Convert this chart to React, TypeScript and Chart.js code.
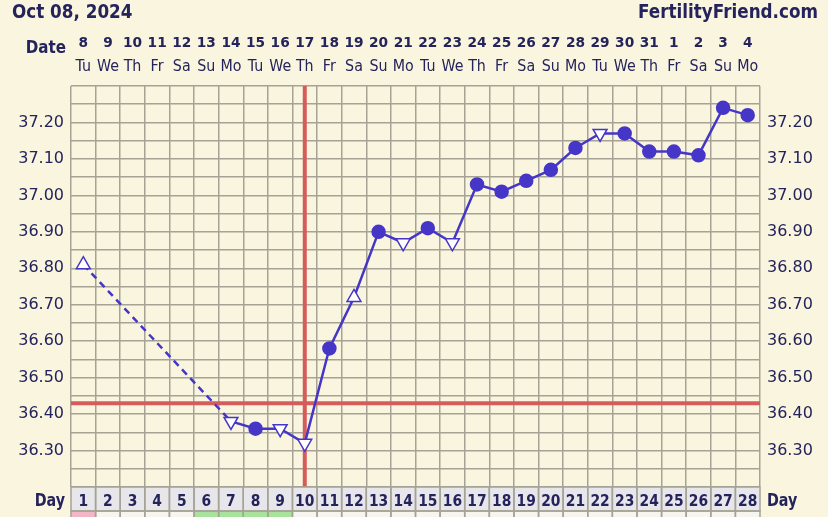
import React, { useEffect, useRef } from "react";
import { Chart, registerables } from "chart.js";

Chart.register(...registerables);

const titleText = "Oct 08, 2024";
const siteText = "FertilityFriend.com";
const dates = ["8", "9", "10", "11", "12", "13", "14", "15", "16", "17", "18", "19", "20", "21", "22", "23", "24", "25", "26", "27", "28", "29", "30", "31", "1", "2", "3", "4"];
const weekdays = ["Tu", "We", "Th", "Fr", "Sa", "Su", "Mo", "Tu", "We", "Th", "Fr", "Sa", "Su", "Mo", "Tu", "We", "Th", "Fr", "Sa", "Su", "Mo", "Tu", "We", "Th", "Fr", "Sa", "Su", "Mo"];
const cycleDays = ["1", "2", "3", "4", "5", "6", "7", "8", "9", "10", "11", "12", "13", "14", "15", "16", "17", "18", "19", "20", "21", "22", "23", "24", "25", "26", "27", "28"];
const temps: (number | null)[] = [36.81, null, null, null, null, null, 36.38, 36.36, 36.36, 36.32, 36.58, 36.72, 36.9, 36.87, 36.91, 36.87, 37.03, 37.01, 37.04, 37.07, 37.13, 37.17, 37.17, 37.12, 37.12, 37.11, 37.24, 37.22];
// "c" = filled circle, "u" = open up-triangle, "d" = open down-triangle
const markers = ["u", "", "", "", "", "", "d", "c", "d", "d", "c", "u", "c", "d", "c", "d", "c", "c", "c", "c", "c", "d", "c", "c", "c", "c", "c", "c"];
const yLabels = ["36.30", "36.40", "36.50", "36.60", "36.70", "36.80", "36.90", "37.00", "37.10", "37.20"];
const coverline = 36.43;
const ovulationDay = "10";
const periodDays = ["1"];
const fertileDays = ["6", "7", "8", "9"];

const NAVY = "#25235c";
const LINE = "#4636c8";
const RED = "#d65c5c";
const GRID = "#a6a396";
const BG = "#f9f5de";

function condensedText(ctx: CanvasRenderingContext2D, text: string, x: number, y: number, align: "left" | "right" | "center", sx: number) {
  const w = ctx.measureText(text).width * sx;
  let left = x;
  if (align === "right") left = x - w;
  if (align === "center") left = x - w / 2;
  ctx.save();
  ctx.translate(left, y);
  ctx.scale(sx, 1);
  ctx.textAlign = "left";
  ctx.fillText(text, 0, 0);
  ctx.restore();
}

const fertilityPlugin = {
  id: "fertility",
  beforeDraw(chart: any) {
    const { ctx, width, height } = chart;
    ctx.save();
    ctx.fillStyle = BG;
    ctx.fillRect(0, 0, width, height);
    ctx.restore();
  },
  beforeDatasetsDraw(chart: any) {
    const { ctx, chartArea, scales } = chart;
    const x = scales.x;
    const y = scales.y;
    ctx.save();
    ctx.strokeStyle = RED;
    ctx.lineWidth = 4;
    const yy = y.getPixelForValue(coverline);
    ctx.beginPath();
    ctx.moveTo(chartArea.left, yy);
    ctx.lineTo(chartArea.right, yy);
    ctx.stroke();
    const xx = x.getPixelForValue(cycleDays.indexOf(ovulationDay));
    ctx.beginPath();
    ctx.moveTo(xx, chartArea.top);
    ctx.lineTo(xx, chartArea.bottom);
    ctx.stroke();
    ctx.restore();
  },
  afterDraw(chart: any) {
    const { ctx, chartArea, scales, width } = chart;
    const x = scales.x;
    const colW = x.getPixelForValue(1) - x.getPixelForValue(0);
    ctx.save();
    ctx.fillStyle = NAVY;
    ctx.textBaseline = "alphabetic";
    ctx.font = "bold 20px 'DejaVu Sans'";
    condensedText(ctx, titleText, 12, 18, "left", 0.84);
    condensedText(ctx, siteText, width - 10, 18, "right", 0.84);
    ctx.font = "bold 18px 'DejaVu Sans'";
    condensedText(ctx, "Date", chartArea.left - 5, 53, "right", 0.84);
    ctx.font = "bold 14px 'DejaVu Sans'";
    dates.forEach((d, i) => {
      condensedText(ctx, d, x.getPixelForValue(i), 47, "center", 0.98);
    });
    ctx.font = "15px 'DejaVu Sans'";
    weekdays.forEach((d, i) => {
      condensedText(ctx, d, x.getPixelForValue(i), 71, "center", 0.95);
    });
    const rowTop = chartArea.bottom;
    const rowH = 24;
    cycleDays.forEach((d, i) => {
      const cx = x.getPixelForValue(i);
      const l = cx - colW / 2;
      ctx.fillStyle = "#e7e6ea";
      ctx.fillRect(l, rowTop, colW, rowH);
      let c = "#f6f5ef";
      if (periodDays.includes(d)) c = "#f3b6c6";
      if (fertileDays.includes(d)) c = "#a8e29c";
      ctx.fillStyle = c;
      ctx.fillRect(l, rowTop + rowH, colW, 20);
    });
    ctx.strokeStyle = GRID;
    ctx.lineWidth = 1.5;
    cycleDays.forEach((d, i) => {
      const l = x.getPixelForValue(i) - colW / 2;
      ctx.strokeRect(l, rowTop, colW, rowH);
      ctx.strokeRect(l, rowTop + rowH, colW, 20);
    });
    ctx.fillStyle = NAVY;
    ctx.font = "bold 16.5px 'DejaVu Sans'";
    cycleDays.forEach((d, i) => {
      condensedText(ctx, d, x.getPixelForValue(i), rowTop + 19, "center", 0.84);
    });
    ctx.font = "bold 17px 'DejaVu Sans'";
    condensedText(ctx, "Day", chartArea.left - 6, rowTop + 19, "right", 0.84);
    condensedText(ctx, "Day", chartArea.right + 7, rowTop + 19, "left", 0.84);
    ctx.restore();
  },
};

function yTickLabel(value: number) {
  const s = Number(value).toFixed(2);
  return yLabels.includes(s) ? s : "";
}

export default function App() {
  const ref = useRef<HTMLCanvasElement | null>(null);
  useEffect(() => {
    document.body.style.margin = "0";
    const canvas = ref.current;
    if (!canvas) return;
    const chart = new Chart(canvas, {
      type: "line",
      data: {
        labels: cycleDays,
        datasets: [
          {
            data: temps,
            borderColor: LINE,
            borderWidth: 2.5,
            tension: 0,
            spanGaps: true,
            pointStyle: markers.map((m) => (m === "c" ? "circle" : "triangle")) as any,
            rotation: markers.map((m) => (m === "d" ? 180 : 0)),
            pointRadius: markers.map((m) => (m === "c" ? 6.5 : 8)),
            pointBackgroundColor: markers.map((m) => (m === "c" ? LINE : "#ffffff")),
            pointBorderColor: LINE,
            pointBorderWidth: 1.5,
            segment: {
              borderDash: (c: any) => (temps[c.p0DataIndex] == null ? [7, 5] : undefined),
            },
          } as any,
        ],
      },
      options: {
        animation: false,
        responsive: false,
        layout: { padding: { top: 86, bottom: 30, left: 0, right: 0 } },
        plugins: { legend: { display: false }, tooltip: { enabled: false } },
        scales: {
          x: {
            type: "category",
            offset: true,
            grid: { offset: true, color: GRID, lineWidth: 1.5, drawTicks: false },
            border: { display: false },
            ticks: { display: false },
            afterFit: (s: any) => {
              s.height = 0;
            },
          },
          y: {
            position: "left",
            min: 36.2,
            max: 37.3,
            grid: { color: GRID, lineWidth: 1.5, drawTicks: false },
            border: { display: false },
            ticks: {
              stepSize: 0.05,
              autoSkip: false,
              padding: 7,
              color: NAVY,
              font: { family: "'DejaVu Sans'", size: 16 },
              callback: (v: any) => yTickLabel(v),
            },
            afterFit: (s: any) => {
              s.width = 71;
            },
          },
          y2: {
            position: "right",
            min: 36.2,
            max: 37.3,
            grid: { display: false, drawTicks: false },
            border: { display: false },
            ticks: {
              stepSize: 0.05,
              autoSkip: false,
              padding: 7,
              color: NAVY,
              font: { family: "'DejaVu Sans'", size: 16 },
              callback: (v: any) => yTickLabel(v),
            },
            afterFit: (s: any) => {
              s.width = 68;
            },
          },
        },
      },
      plugins: [fertilityPlugin],
    });
    return () => chart.destroy();
  }, []);
  return (
    <div style={{ width: 828, height: 517, position: "relative", background: BG }}>
      <canvas ref={ref} width={828} height={517} style={{ display: "block" }} />
    </div>
  );
}
